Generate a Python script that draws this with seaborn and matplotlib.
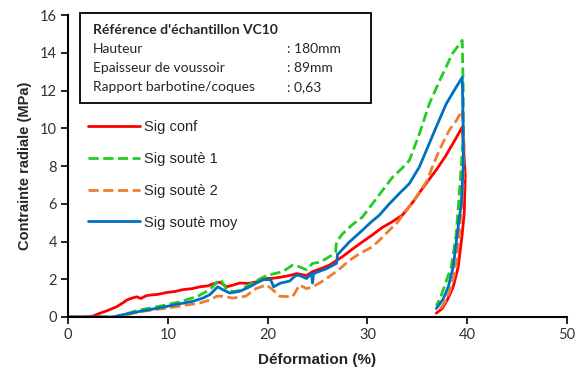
import pandas as pd
import seaborn as sns
import matplotlib.pyplot as plt
from matplotlib.patches import Rectangle

# curves (strain in %, stress in MPa)
conf_x = [0, 1.5, 2.5, 3.2, 4.0, 4.9, 5.5, 5.9, 6.4, 6.9, 7.3, 7.8, 8.2, 9.0, 9.9, 10.7, 11.5,
          12.4, 13.2, 14.0, 14.5, 15.2, 15.9, 16.6, 17.2, 18.0, 18.5, 19.2, 19.9, 20.5, 21.2,
          22.2, 22.9, 23.9, 24.5, 25.5, 26.2, 27.5, 28.5, 29.5, 30.5, 31.5, 32.5, 33.5, 34.5,
          35.5, 36.2, 36.9, 37.8, 38.9, 39.5,
          39.8, 39.7, 39.5, 39.1, 38.6, 38.0, 37.5, 36.9]
conf_y = [0, 0, 0.05, 0.2, 0.35, 0.55, 0.75, 0.9, 1.0, 1.07, 0.98, 1.12, 1.16, 1.2, 1.3, 1.35,
          1.45, 1.5, 1.6, 1.65, 1.75, 1.85, 1.6, 1.7, 1.8, 1.78, 1.82, 1.9, 2.04, 2.05, 2.1,
          2.2, 2.3, 2.2, 2.4, 2.6, 2.75, 3.2, 3.6, 3.98, 4.35, 4.75, 5.05, 5.4, 6.05,
          6.8, 7.3, 7.8, 8.5, 9.5, 10.07,
          7.5, 5.5, 4.4, 2.66, 1.6, 0.9, 0.45, 0.2]

s1_x = [0, 4.5, 5.5, 6.5, 7.5, 8.5, 9.9, 11.0, 11.9, 13.0, 13.9, 14.5, 15.0, 15.3, 15.9, 16.5,
        17.2, 17.8, 18.8, 19.9, 20.7, 21.5, 22.5, 23.2, 23.9, 24.5, 25.2, 25.9, 26.8, 26.9,
        27.5, 28.5, 29.5, 30.5, 31.5, 32.5, 33.5, 34.2, 35.2, 36.2, 37.3, 38.5, 39.5,
        39.6, 39.6, 39.4, 38.9, 38.4, 37.7, 37.3, 36.9]
s1_y = [0, 0, 0.1, 0.28, 0.4, 0.5, 0.65, 0.78, 0.92, 1.1, 1.36, 1.6, 1.9, 1.98, 1.45, 1.35,
        1.4, 1.6, 1.9, 2.2, 2.3, 2.4, 2.75, 2.66, 2.5, 2.84, 2.9, 3.1, 3.4, 3.98,
        4.4, 4.9, 5.3, 6.0, 6.7, 7.4, 7.9, 8.3, 9.7, 11.3, 12.6, 13.95, 14.66,
        12.0, 9.5, 7.95, 4.4, 2.66, 1.6, 1.0, 0.6]

s2_x = [0, 4.5, 5.5, 6.5, 7.5, 8.5, 9.9, 11.5, 13.2, 14.2, 14.9, 15.5, 16.5, 17.8, 18.8, 19.9,
        20.5, 21.2, 22.5, 23.2, 23.9, 24.5, 25.2, 25.9, 27.0, 28.2, 29.2, 30.5, 31.2, 32.2,
        32.9, 34.2, 35.2, 36.0, 36.5, 37.2, 38.2, 38.9, 39.5,
        39.7, 39.6, 39.2, 38.9, 38.4, 37.9, 37.4, 36.9]
s2_y = [0, 0, 0.08, 0.2, 0.3, 0.38, 0.47, 0.6, 0.74, 0.9, 1.1, 1.1, 1.0, 1.1, 1.5, 1.7,
        1.45, 1.1, 1.07, 1.7, 1.5, 1.6, 1.8, 2.04, 2.45, 3.0, 3.35, 3.72, 4.07, 4.6,
        4.95, 5.84, 6.6, 7.25, 7.95, 8.84, 9.9, 10.4, 10.95,
        9.0, 7.0, 4.4, 2.66, 1.6, 0.9, 0.5, 0.3]

moy_x = [0, 4.5, 5.5, 6.5, 7.2, 8.5, 9.9, 11.2, 12.5, 13.5, 14.2, 15.0, 15.5, 16.2, 17.2, 18.2,
         19.5, 20.3, 20.6, 21.3, 22.2, 22.8, 23.2, 23.9, 24.4, 24.5, 24.6, 25.9, 26.9, 27.0,
         28.2, 29.5, 30.3, 31.2, 32.2, 33.3, 34.2, 35.2, 36.2, 37.0, 37.9, 38.8, 39.5,
         39.6, 39.6, 39.4, 39.0, 38.6, 38.1, 37.6, 36.9]
moy_y = [0, 0, 0.12, 0.22, 0.3, 0.42, 0.56, 0.7, 0.83, 1.0, 1.18, 1.6, 1.45, 1.27, 1.36, 1.6,
         1.98, 1.98, 1.6, 1.8, 1.9, 2.2, 2.2, 2.04, 2.3, 1.8, 2.3, 2.56, 2.84, 3.3,
         3.98, 4.6, 5.0, 5.4, 6.0, 6.6, 7.07, 7.95, 9.2, 10.2, 11.3, 12.1, 12.7,
         10.0, 8.0, 6.0, 4.4, 2.66, 1.6, 0.95, 0.45]

labels = ["Sig conf", "Sig soutè 1", "Sig soutè 2", "Sig soutè moy"]
colors = ["#FF0000", "#22CC22", "#ED7D31", "#0070C0"]
dashed = [False, True, True, False]

info_rows = [("Hauteur", ": 180mm"),
             ("Epaisseur de voussoir", ": 89mm"),
             ("Rapport barbotine/coques", ": 0,63")]

sns.set_style("ticks")
plt.rcParams["font.family"] = ["Liberation Sans", "DejaVu Sans"]

fig = plt.figure(figsize=(5.77, 3.78), dpi=100)
ax = fig.add_axes([0.1179, 0.1614, 0.8648, 0.7986])

series = [(conf_x, conf_y), (s1_x, s1_y), (s2_x, s2_y), (moy_x, moy_y)]
for (xs, ys), lab, col, dash in zip(series, labels, colors, dashed):
    sns.lineplot(x=xs, y=ys, sort=False, estimator=None, ax=ax, color=col, lw=2.0,
                 label=lab, linestyle="--" if dash else "-",
                 dashes=(2.2, 1.2) if dash else None)

ax.set_xlim(0, 50)
ax.set_ylim(0, 16)
ax.set_xticks(range(0, 51, 10))
ax.set_yticks(range(0, 17, 2))
for t in ax.get_xticklabels() + ax.get_yticklabels():
    t.set_fontfamily("Lato")
    t.set_fontsize(10.5)
    t.set_color("#333333")
ax.tick_params(direction="out", length=5, width=1.2, color="black", pad=3)
for s in ["left", "bottom"]:
    ax.spines[s].set_linewidth(1.5)
    ax.spines[s].set_color("black")
sns.despine(ax=ax)

ax.set_xlabel("Déformation (%)", fontsize=11, fontweight="bold", labelpad=8)
ax.set_ylabel("Contrainte radiale (MPa)", fontsize=10.5, fontweight="bold", labelpad=6)

leg = ax.legend(loc="upper left", bbox_to_anchor=(0.04, 0.652), frameon=False,
                fontsize=10.5, handlelength=3.6, handletextpad=0.25, labelspacing=1.22,
                borderpad=0, borderaxespad=0)

ax.add_patch(Rectangle((0.024, 0.709), 0.583, 0.298, transform=ax.transAxes,
                       fill=False, lw=1.3, edgecolor="black", clip_on=False))
ax.text(0.050, 0.950, "Référence d'échantillon VC10", transform=ax.transAxes,
        fontfamily="Lato", fontweight="bold", fontsize=10, va="center")
for i, (k, v) in enumerate(info_rows):
    yy = 0.888 - i * 0.063
    ax.text(0.050, yy, k, transform=ax.transAxes, fontfamily="Lato", fontsize=10, va="center")
    ax.text(0.439, yy, v, transform=ax.transAxes, fontfamily="Lato", fontsize=10, va="center")

fig.savefig("out.png", dpi=100)
